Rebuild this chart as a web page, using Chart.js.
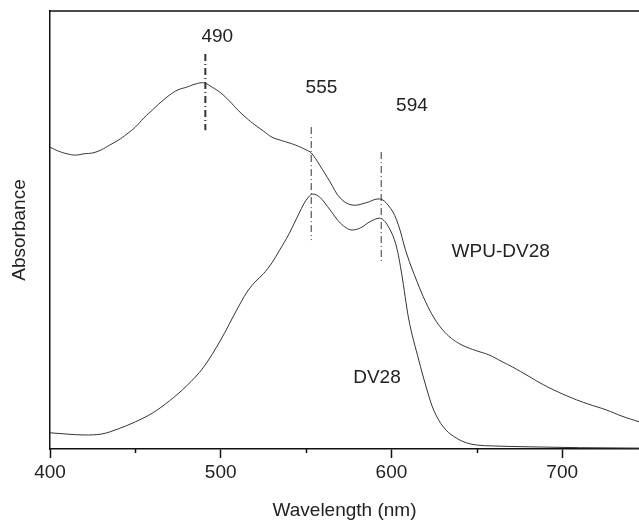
<!DOCTYPE html>
<html>
<head>
<meta charset="utf-8">
<script src="https://cdn.jsdelivr.net/npm/chart.js@4/dist/chart.umd.min.js"></script>
<style>
  html, body { margin: 0; padding: 0; background: #fff; }
  #wrap { width: 639px; height: 520px; }
</style>
</head>
<body>
<div id="wrap"><canvas id="spectrum"></canvas></div>
<script>
// WPU-DV28 film spectrum (upper curve)
const wpuNm = [400, 405, 410, 415, 420, 425, 430, 435, 440, 445, 450, 455, 460, 465, 470, 475, 480, 485, 490, 495,
               500, 505, 510, 515, 520, 525, 530, 535, 540, 545, 550, 553, 558, 564, 570, 577, 585, 593, 598, 603,
               609, 615, 620, 625, 630, 635, 640, 645, 650, 657, 665, 671, 680, 687, 695, 706, 715, 726, 735, 745];
const wpuAbs = [0.689, 0.680, 0.674, 0.671, 0.674, 0.676, 0.683, 0.694, 0.705, 0.719, 0.735, 0.756, 0.774, 0.792, 0.808, 0.820, 0.826, 0.833, 0.836, 0.826,
                0.813, 0.795, 0.774, 0.756, 0.740, 0.726, 0.712, 0.705, 0.699, 0.692, 0.683, 0.676, 0.648, 0.610, 0.573, 0.557, 0.562, 0.571, 0.557, 0.523,
                0.445, 0.382, 0.336, 0.299, 0.272, 0.253, 0.240, 0.231, 0.224, 0.215, 0.199, 0.187, 0.167, 0.151, 0.135, 0.116, 0.103, 0.089, 0.075, 0.062];

// DV28 dye spectrum (lower curve)
const dvNm = [400, 410, 420, 430, 440, 450, 460, 470, 480, 490, 500, 510, 515, 520, 525, 530, 534.5, 540, 544.5, 550,
              554, 558, 564, 570, 577, 582, 587, 593, 598, 603, 606, 610, 616, 620, 624, 628, 632, 638, 644, 650,
              659, 680, 710, 745];
const dvAbs = [0.037, 0.034, 0.032, 0.034, 0.046, 0.062, 0.082, 0.110, 0.144, 0.187, 0.249, 0.322, 0.356, 0.381, 0.400, 0.425, 0.454, 0.491, 0.527, 0.568,
               0.582, 0.575, 0.546, 0.516, 0.500, 0.505, 0.518, 0.527, 0.509, 0.461, 0.400, 0.299, 0.203, 0.146, 0.096, 0.064, 0.043, 0.025, 0.014, 0.009,
               0.007, 0.005, 0.003, 0.002];

// peak markers (dash-dot verticals)
const peakNm = [491, 553, 594];
const peakTop = [0.902, 0.735, 0.678];
const peakBottom = [0.728, 0.477, 0.425];
const peakWidth = [2, 1, 1];

// text labels inside the plot
const noteText = ['490', '555', '594', 'WPU-DV28', 'DV28'];
const noteNm = [498, 559, 612, 664, 591.5];
const noteAbs = [0.941, 0.824, 0.783, 0.450, 0.162];

const xTicks = [400, 500, 600, 700];
const xMinor = [450, 550, 650];

const FONT = '"Liberation Sans", Arial, sans-serif';
const INK = '#222';

function toPoints(xs, ys) {
  return xs.map((x, i) => ({ x: x, y: ys[i] }));
}

const datasets = [
  {
    label: 'WPU-DV28',
    data: toPoints(wpuNm, wpuAbs),
    borderColor: '#333', borderWidth: 1, pointRadius: 0,
    tension: 0.4
  },
  {
    label: 'DV28',
    data: toPoints(dvNm, dvAbs),
    borderColor: '#333', borderWidth: 1, pointRadius: 0,
    cubicInterpolationMode: 'monotone'
  }
];
peakNm.forEach((nm, i) => {
  datasets.push({
    label: 'peak ' + nm,
    data: [{ x: nm, y: peakTop[i] }, { x: nm, y: peakBottom[i] }],
    borderColor: '#333', borderWidth: peakWidth[i], pointRadius: 0,
    borderDash: [7, 3, 1, 3]
  });
});

// notes, top frame line and short minor ticks
const extras = {
  id: 'extras',
  afterDatasetsDraw(chart) {
    const { ctx, chartArea, scales: { x, y } } = chart;
    ctx.save();
    ctx.fillStyle = INK;
    ctx.font = '19px ' + FONT;
    ctx.textAlign = 'center';
    ctx.textBaseline = 'middle';
    noteText.forEach((t, i) => {
      ctx.fillText(t, x.getPixelForValue(noteNm[i]), y.getPixelForValue(noteAbs[i]));
    });
    ctx.strokeStyle = '#111';
    ctx.lineWidth = 1.5;
    ctx.beginPath();
    ctx.moveTo(chartArea.left, chartArea.top);
    ctx.lineTo(chartArea.right, chartArea.top);
    xMinor.forEach(v => {
      const px = Math.round(x.getPixelForValue(v)) + 0.5;
      ctx.moveTo(px, chartArea.bottom);
      ctx.lineTo(px, chartArea.bottom + 4);
    });
    ctx.stroke();
    ctx.restore();
  }
};

new Chart(document.getElementById('spectrum'), {
  type: 'line',
  data: { datasets: datasets },
  plugins: [extras],
  options: {
    responsive: true,
    maintainAspectRatio: false,
    animation: false,
    layout: { padding: { top: 11, left: 0, right: 0, bottom: 0 } },
    plugins: { legend: { display: false }, tooltip: { enabled: false } },
    scales: {
      x: {
        type: 'linear',
        min: 400,
        max: 745,
        afterFit(scale) { scale.height = 71; },
        afterBuildTicks(scale) { scale.ticks = xTicks.map(v => ({ value: v })); },
        ticks: {
          includeBounds: false,
          color: INK,
          font: { family: FONT, size: 19 },
          padding: 3,
          maxRotation: 0
        },
        grid: { drawOnChartArea: false, tickLength: 9, tickWidth: 1.5, tickColor: '#111' },
        border: { display: true, color: '#111', width: 1.5 },
        title: {
          display: true,
          text: 'Wavelength (nm)',
          color: INK,
          font: { family: FONT, size: 19, lineHeight: 1 },
          padding: { top: 0, bottom: 0 }
        }
      },
      y: {
        min: 0,
        max: 1,
        afterFit(scale) { scale.width = 50; },
        ticks: { display: false },
        grid: { display: false },
        border: { display: true, color: '#111', width: 1.5 },
        title: {
          display: true,
          text: 'Absorbance',
          color: INK,
          font: { family: FONT, size: 19, lineHeight: 1 },
          padding: { top: 10, bottom: 0 }
        }
      }
    }
  }
});
</script>
</body>
</html>
